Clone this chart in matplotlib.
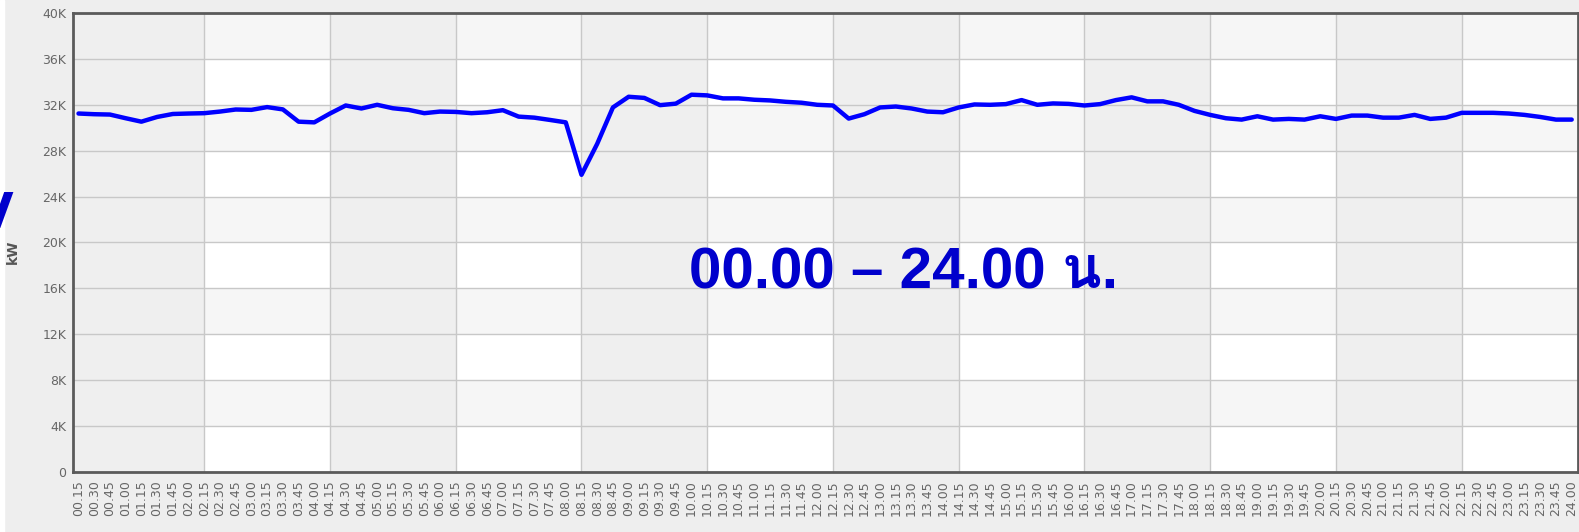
import matplotlib
matplotlib.use("Agg")
import matplotlib.pyplot as plt
from matplotlib import font_manager
from matplotlib.ft2font import FT2Font
from matplotlib.patches import Rectangle


# time of day (every 15 minutes) on the x axis
times = [f"{m // 60:02d}.{m % 60:02d}" for m in range(15, 24 * 60 + 1, 15)]

# load in kW
load_kw = [
    31240, 31180, 31150, 30830, 30530, 30940, 31200, 31240,
    31270, 31410, 31590, 31560, 31800, 31600, 30530, 30470,
    31240, 31940, 31680, 32000, 31700, 31560, 31270, 31410,
    31380, 31270, 31350, 31530, 30970, 30880, 30680, 30470,
    25900, 28600, 31770, 32700, 32600, 31970, 32100, 32880,
    32820, 32560, 32560, 32440, 32380, 32260, 32180, 32000,
    31940, 30800, 31180, 31770, 31850, 31680, 31410, 31350,
    31770, 32030, 32000, 32060, 32410, 32000, 32120, 32080,
    31940, 32060, 32410, 32650, 32300, 32300, 32000, 31470,
    31120, 30830, 30710, 31000, 30710, 30770, 30710, 31000,
    30770, 31060, 31060, 30880, 30880, 31120, 30770, 30880,
    31300, 31300, 31300, 31240, 31120, 30940, 30710, 30710,
]

y_ticks = [0, 4000, 8000, 12000, 16000, 20000, 24000, 28000, 32000, 36000, 40000]
y_tick_labels = ["0", "4K", "8K", "12K", "16K", "20K", "24K", "28K", "32K", "36K", "40K"]

annotation = "00.00 – 24.00 น."


# find any installed font that has Thai glyphs
def thai_fonts():
    names = []
    for f in font_manager.fontManager.ttflist:
        try:
            if 0x0E19 in FT2Font(f.fname).get_charmap():
                names.append(f.name)
        except Exception:
            pass
    return list(dict.fromkeys(names))


W, H = 1579, 532
fig = plt.figure(figsize=(W / 100, H / 100), dpi=100, facecolor="#eeeeee")

# thin white strip on the far left
fig.patches.append(Rectangle((0, 0), 4 / W, 1, transform=fig.transFigure, color="white", zorder=0))

ax = fig.add_axes([73 / W, 1 - 472 / H, (1578 - 73) / W, (472 - 13) / H])
ax.set_facecolor("white")

x = list(range(len(times)))
ax.set_xlim(-0.35, len(times) - 0.6)
ax.set_ylim(0, 40000)

# alternating row bands
for i in range(0, len(y_ticks) - 1):
    if i % 2 == 1:
        ax.axhspan(y_ticks[i], y_ticks[i + 1], color="#f6f6f6", lw=0, zorder=0)

# alternating column bands (every 2 hours)
for k in range(0, len(times), 16):
    start = k if k else ax.get_xlim()[0]
    ax.axvspan(start, k + 8, color="#efefef", lw=0, zorder=0.1)

# grid
ax.set_axisbelow(True)
ax.yaxis.grid(True, color="#c8c8c8", lw=1)
for k in range(8, len(times), 8):
    ax.axvline(k, color="#c8c8c8", lw=1, zorder=0.6)

# data
ax.plot(x, load_kw, color="#0000ff", lw=3.2, solid_joinstyle="round", solid_capstyle="round", zorder=3)

# axes
ax.set_yticks(y_ticks)
ax.set_yticklabels(y_tick_labels)
ax.set_xticks(x)
ax.set_xticklabels(times, rotation=90, va="top", ha="center")
ax.tick_params(axis="both", length=0, colors="#666666", labelsize=9)
ax.tick_params(axis="y", pad=5)
ax.tick_params(axis="x", pad=6)
for s in ax.spines.values():
    s.set_color("#5a5a5a")
    s.set_linewidth(2)

fig.text(13 / W, 1 - 252 / H, "kW", rotation=90, ha="center", va="center",
         fontsize=10, fontweight="bold", color="#555555")

# big annotation
fam = ["Liberation Sans"] + thai_fonts() + ["DejaVu Sans"]
ax.text(52.5, 16000, annotation, ha="center", va="baseline", fontsize=42,
        fontweight="bold", color="#0000cc", family=fam, zorder=4)

# cut off letter on the left edge, as in the original screenshot
fig.text(13 / W, 1 - 228 / H, "V", ha="right", va="baseline", fontsize=35,
         fontweight="bold", color="#0000cc")

plt.savefig("out.png", dpi=100, facecolor=fig.get_facecolor())
